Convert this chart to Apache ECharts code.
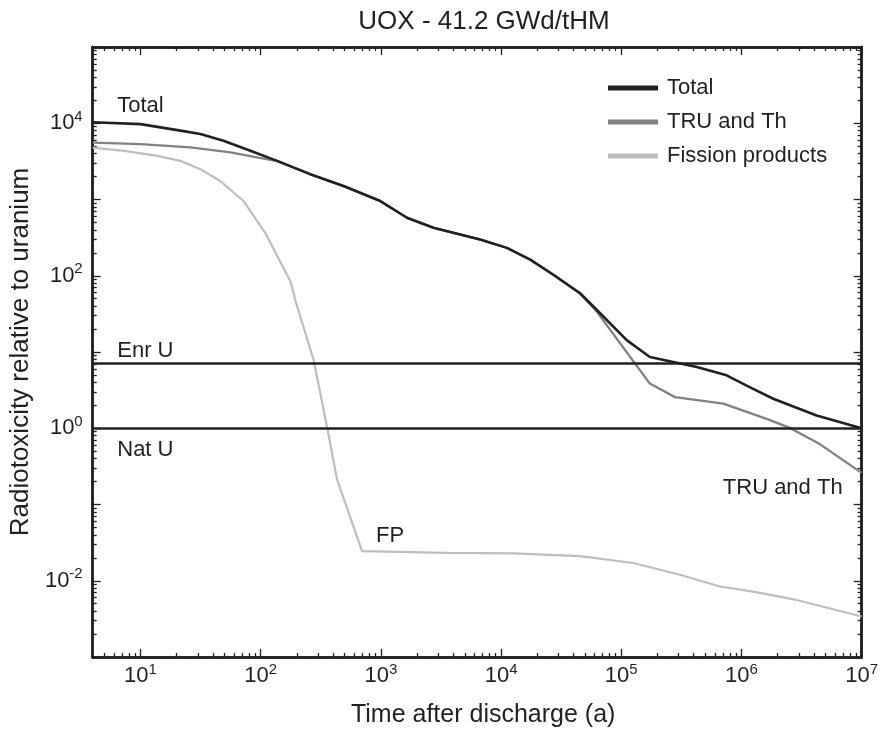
<!DOCTYPE html>
<html><head><meta charset="utf-8">
<script src="https://cdn.jsdelivr.net/npm/echarts@6/dist/echarts.min.js"></script>
<style>html,body{margin:0;padding:0;background:#fff}#c{width:881px;height:733px}</style>
</head><body><div id="c"></div>
<script>
// ---- data ----
const totalTime = [4, 10, 21.5, 31.5, 49, 82, 137, 259, 490, 990, 1650, 2740, 6700, 11200, 17500, 27300, 45500, 66700, 111000, 173000, 425000, 753000, 1170000, 1840000, 4220000, 1e7];
const totalTox  = [10300, 9730, 8000, 7230, 5900, 4350, 3210, 2150, 1500, 955, 576, 426, 298, 232, 163, 103, 59, 32.2, 14.3, 8.6, 6.37, 4.95, 3.47, 2.44, 1.47, 1.0];

const truTime = [4, 10, 26, 56, 93, 137, 259, 490, 990, 1650, 2740, 6700, 11200, 17500, 27300, 45500, 62500, 173000, 280000, 707000, 1620000, 2530000, 4490000, 1e7];
const truTox  = [5570, 5340, 4830, 4150, 3570, 3180, 2130, 1490, 950, 574, 424, 297, 231, 162, 102, 58, 34, 3.85, 2.56, 2.10, 1.33, 1.01, 0.62, 0.26];

const fpTime = [4, 7.3, 13.8, 21.5, 31.5, 46, 72, 109, 177, 194, 276, 357, 431, 697, 3550, 12700, 45500, 126000, 308000, 663000, 1250000, 2880000, 1e7];
const fpTox  = [4800, 4350, 3740, 3210, 2500, 1750, 955, 366, 84, 48, 7.8, 1.03, 0.215, 0.0244, 0.0232, 0.0228, 0.021, 0.0171, 0.012, 0.0084, 0.0072, 0.0056, 0.0034];

const refNames  = ['Enr U', 'Nat U'];
const refLevels = [7.07, 1.0];

const noteTexts = ['Total', 'Enr U', 'Nat U', 'FP', 'TRU and Th'];
const noteTime  = [6.4, 6.4, 6.4, 910, 700000];
const noteTox   = [17100, 10.4, 0.52, 0.0385, 0.163];

const seriesNames = ['Total', 'TRU and Th', 'Fission products'];
const xMin = 4, xMax = 1e7, yMin = 1e-3, yMax = 1e5;
const xMajorTicks = [10, 100, 1e3, 1e4, 1e5, 1e6, 1e7];
const xLabelTicks = [10, 100, 1e3, 1e4, 1e5, 1e6, 1e7];
const yMajorTicks = [1e-3, 1e-2, 1e-1, 1, 10, 100, 1e3, 1e4, 1e5];
const yLabelTicks = [1e-2, 1, 100, 1e4];

// ---- helpers ----
function minorTicks(lo, hi) {
  const out = [];
  for (let e = -4; e <= 8; e++) {
    for (let m = 2; m <= 9; m++) {
      const v = m * Math.pow(10, e);
      if (v > lo && v < hi) out.push(v);
    }
  }
  return out;
}
const zip = (a, b) => a.map((v, i) => [v, b[i]]);
const FONT = '"Liberation Sans", Arial, Helvetica, sans-serif';
const INK = '#231f20';

const labelRich = {
  b: { fontSize: 22, lineHeight: 28, color: INK, fontFamily: FONT },
  e: { fontSize: 15, verticalAlign: 'top', color: INK, fontFamily: FONT }
};
const powFmt = v => '{b|10}{e|' + Math.round(Math.log10(v)) + '}';

function axisBase(type, min, max, pos, ticks, len, labels, extra) {
  return Object.assign({
    type: 'log', logBase: 10, min: min, max: max, position: pos,
    axisLine: { show: true, onZero: false, lineStyle: { color: INK, width: 2.5 } },
    axisTick: { show: true, inside: true, length: len, customValues: ticks, lineStyle: { color: INK, width: 1.3 } },
    axisLabel: labels ? { show: true, customValues: labels, formatter: powFmt, rich: labelRich, margin: type === 'x' ? 5 : 10 } : { show: false },
    minorTick: { show: false },
    splitLine: { show: false },
    axisPointer: { show: false }
  }, extra || {});
}

const xMinor = minorTicks(xMin, xMax);
const yMinor = minorTicks(yMin, yMax);

const option = {
  animation: false,
  backgroundColor: '#ffffff',
  textStyle: { fontFamily: FONT },
  title: {
    text: 'UOX - 41.2 GWd/tHM', left: 479, top: 4, textAlign: 'center',
    textStyle: { fontSize: 26, fontWeight: 'normal', color: INK, fontFamily: FONT }
  },
  legend: {
    data: seriesNames, orient: 'vertical', left: 608, top: 76, padding: 0,
    itemWidth: 50, itemHeight: 5, itemGap: 10, icon: 'rect',
    textStyle: { fontSize: 22, lineHeight: 24, color: INK, fontFamily: FONT, padding: [0, 0, 0, 4] }
  },
  grid: { left: 92, right: 19, top: 47, bottom: 76, containLabel: false },
  xAxis: [
    axisBase('x', xMin, xMax, 'bottom', xMajorTicks, 8, xLabelTicks, {
      name: 'Time after discharge (a)', nameLocation: 'middle', nameGap: 46,
      nameTextStyle: { fontSize: 25, color: INK, fontFamily: FONT, padding: [0, 0, 0, 12] }
    }),
    axisBase('x', xMin, xMax, 'bottom', xMinor, 4, null),
    axisBase('x', xMin, xMax, 'top', xMajorTicks, 8, null),
    axisBase('x', xMin, xMax, 'top', xMinor, 4, null)
  ],
  yAxis: [
    axisBase('y', yMin, yMax, 'left', yMajorTicks, 8, yLabelTicks, {
      name: 'Radiotoxicity relative to uranium', nameLocation: 'middle', nameGap: 54,
      nameTextStyle: { fontSize: 26, color: INK, fontFamily: FONT }
    }),
    axisBase('y', yMin, yMax, 'left', yMinor, 4, null),
    axisBase('y', yMin, yMax, 'right', yMajorTicks, 8, null),
    axisBase('y', yMin, yMax, 'right', yMinor, 4, null)
  ],
  series: [
    {
      name: 'TRU and Th', type: 'line', xAxisIndex: 0, yAxisIndex: 0,
      data: zip(truTime, truTox), symbol: 'none', color: '#808285',
      lineStyle: { color: '#808285', width: 2.3 }, z: 3
    },
    {
      name: 'Fission products', type: 'line', xAxisIndex: 0, yAxisIndex: 0,
      data: zip(fpTime, fpTox), symbol: 'none', color: '#bcbec0',
      lineStyle: { color: '#bcbec0', width: 2.2 }, z: 2
    },
    {
      name: 'Total', type: 'line', xAxisIndex: 0, yAxisIndex: 0,
      data: zip(totalTime, totalTox), symbol: 'none', color: INK,
      lineStyle: { color: INK, width: 2.6 }, z: 4,
      markLine: {
        silent: true, symbol: 'none', animation: false,
        label: { show: false },
        lineStyle: { color: INK, width: 2.5, type: 'solid' },
        data: refLevels.map((v, i) => ({ name: refNames[i], yAxis: v }))
      }
    },
    {
      name: 'notes', type: 'scatter', xAxisIndex: 0, yAxisIndex: 0,
      symbolSize: 0, silent: true, z: 6,
      itemStyle: { opacity: 1 },
      data: noteTexts.map((t, i) => ({ name: t, value: [noteTime[i], noteTox[i]] })),
      label: {
        show: true, position: 'right', distance: 0, formatter: p => p.name,
        fontSize: 22, color: INK, opacity: 1, fontFamily: FONT
      }
    }
  ]
};
const chart = echarts.init(document.getElementById('c'), null, { renderer: 'canvas' });
chart.setOption(option);
</script></body></html>
